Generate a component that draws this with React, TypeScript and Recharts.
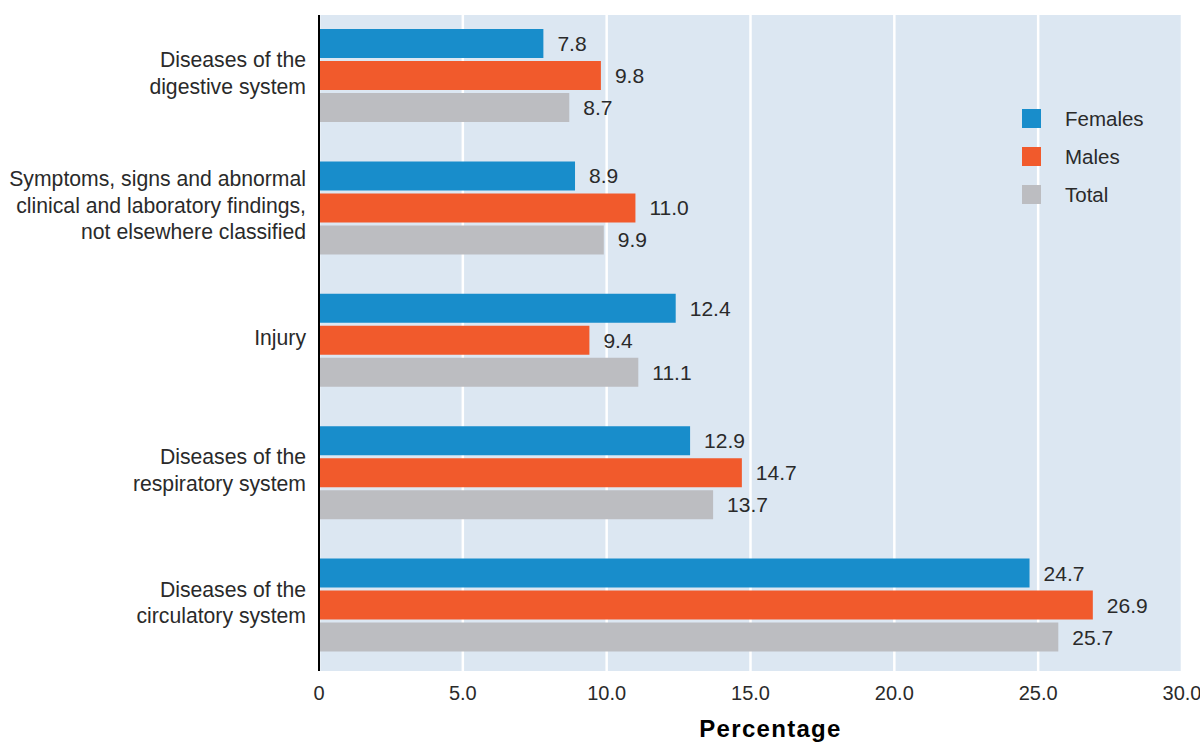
import React from 'react';
import { BarChart, Bar, XAxis, YAxis, CartesianGrid, LabelList, Legend } from 'recharts';

const categories = [
  'Diseases of the\ndigestive system',
  'Symptoms, signs and abnormal\nclinical and laboratory findings,\nnot elsewhere classified',
  'Injury',
  'Diseases of the\nrespiratory system',
  'Diseases of the\ncirculatory system',
];
const females = [7.8, 8.9, 12.4, 12.9, 24.7];
const males = [9.8, 11.0, 9.4, 14.7, 26.9];
const total = [8.7, 9.9, 11.1, 13.7, 25.7];
const xTicks = [0, 5, 10, 15, 20, 25, 30];

const seriesNames = ['Females', 'Males', 'Total'];
const colors = ['#188dcb', '#f15a2c', '#bcbdc1'];

const data = categories.map((c, i) => ({
  category: c,
  Females: females[i],
  Males: males[i],
  Total: total[i],
}));

const FONT = '"Liberation Sans", Arial, Helvetica, sans-serif';
const TEXT = '#2a2a2a';

const YTick = (props: any) => {
  const { x, y, payload } = props;
  const lines: string[] = String(payload.value).split('\n');
  const lh = 26.5;
  const start = -((lines.length - 1) * lh) / 2 - 2.5;
  return (
    <text x={x} y={y} textAnchor="end" fill={TEXT} fontSize={21.2} fontFamily={FONT}>
      {lines.map((l, i) => (
        <tspan key={i} x={x} y={y + start + i * lh} dy="0.36em">
          {l}
        </tspan>
      ))}
    </text>
  );
};

const renderLegend = () => (
  <div style={{ fontFamily: FONT }}>
    {seriesNames.map((n, i) => (
      <div key={n} style={{ display: 'flex', alignItems: 'center', height: 19, marginBottom: 19 }}>
        <div style={{ width: 19, height: 19, background: colors[i] }} />
        <span style={{ marginLeft: 24, fontSize: 20.5, color: TEXT, lineHeight: '19px' }}>{n}</span>
      </div>
    ))}
  </div>
);

const fmt = (v: number) => (v === 0 ? '0' : v.toFixed(1));

export default function App() {
  return (
    <div style={{ position: 'absolute', left: 0, top: 0, width: 1200, height: 745, background: '#fff', fontFamily: FONT }}>
      <BarChart
        width={1200}
        height={745}
        data={data}
        layout="vertical"
        margin={{ top: 15, right: 18, bottom: 0, left: 0 }}
        barSize={29}
        barGap={3}
      >
        <CartesianGrid horizontal={false} stroke="#ffffff" strokeWidth={2.5} fill="#dce7f2" />
        <XAxis
          type="number"
          domain={[0, 30]}
          ticks={xTicks}
          tickFormatter={fmt}
          axisLine={false}
          tickLine={false}
          tickSize={0}
          tickMargin={15}
          height={74}
          interval={0}
          tick={{ fill: TEXT, fontSize: 20, fontFamily: FONT }}
          label={{
            value: 'Percentage',
            position: 'insideBottom',
            offset: 8,
            dx: 20,
            style: { fill: '#000', fontSize: 24, fontWeight: 700, fontFamily: FONT, letterSpacing: 1.3 },
          }}
        />
        <YAxis
          type="category"
          dataKey="category"
          width={319}
          axisLine={{ stroke: '#000', strokeWidth: 2 }}
          tickLine={false}
          tickSize={0}
          tickMargin={13}
          interval={0}
          padding={{ top: -6, bottom: 0 }}
          tick={<YTick />}
        />
        <Legend
          layout="vertical"
          align="center"
          verticalAlign="middle"
          content={renderLegend}
          wrapperStyle={{ left: 1022, top: 109, width: 160, height: 120 }}
        />
        {seriesNames.map((n, i) => (
          <Bar key={n} dataKey={n} fill={colors[i]} isAnimationActive={false}>
            <LabelList
              dataKey={n}
              position="right"
              offset={14}
              formatter={(v: any) => Number(v).toFixed(1)}
              style={{ fill: TEXT, fontSize: 21, fontFamily: FONT }}
            />
          </Bar>
        ))}
      </BarChart>
    </div>
  );
}
